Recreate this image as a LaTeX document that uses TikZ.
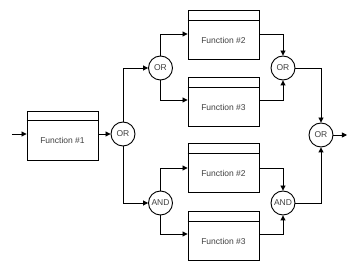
\documentclass[tikz,border=0pt]{standalone}
\usepackage{fontspec}
\setmainfont{Liberation Sans}
\usetikzlibrary{arrows.meta}
\tikzset{
  fbox/.style={draw, line width=0.9pt, minimum width=71pt, minimum height=49pt, inner sep=0pt},
  ftext/.style={font=\fontsize{8.5}{10}\selectfont, text=black!75, inner sep=0pt},
  gate/.style={draw, circle, line width=0.9pt, minimum size=24pt, inner sep=0pt, font=\fontsize{8.5}{10}\selectfont, text=black!75},
  conn/.style={line width=0.9pt},
  arr/.style={conn, -{Triangle[length=5pt,width=5pt]}}
}
\begin{document}
\begin{tikzpicture}[x=1pt,y=-1pt]
\useasboundingbox (0,0) rectangle (360,270);
% function boxes
\node[fbox] (f1) at (62.5,135.5) {};
\node[fbox] (f2a) at (223.5,35) {};
\node[fbox] (f3a) at (223.5,102) {};
\node[fbox] (f2b) at (223.5,168) {};
\node[fbox] (f3b) at (223.5,236) {};
\foreach \b in {f1,f2a,f3a,f2b,f3b}{
  \draw[conn] ([yshift=-10pt]\b.north west) -- ([yshift=-10pt]\b.north east);
}
\node[ftext] (t1) at ([yshift=-5pt]f1.center) {Function \#1};
\node[ftext] (t2a) at ([yshift=-5pt]f2a.center) {Function \#2};
\node[ftext] (t3a) at ([yshift=-5pt]f3a.center) {Function \#3};
\node[ftext] (t2b) at ([yshift=-5pt]f2b.center) {Function \#2};
\node[ftext] (t3b) at ([yshift=-5pt]f3b.center) {Function \#3};
% gates
\node[gate] (c1) at (123,134) {OR};
\node[gate] (c2) at (160.5,68) {OR};
\node[gate] (c3) at (160.5,203) {AND};
\node[gate] (c4) at (283,68) {OR};
\node[gate] (c5) at (283,203) {AND};
\node[gate] (c6) at (321,135) {OR};
\coordinate (in) at (12,134);
\coordinate (out) at (347,135);
% connectors
\draw[arr] (in) -- (f1.west |- in);
\draw[arr] (f1.east |- c1) -- (c1.west);
\draw[arr] (c1.north) |- (c2.west);
\draw[arr] (c1.south) |- (c3.west);
\draw[arr] (c2.north) |- ([yshift=1pt]f2a.west);
\draw[arr] (c2.south) |- ([yshift=2pt]f3a.west);
\draw[arr] (c3.north) |- (f2b.west);
\draw[arr] (c3.south) |- ([yshift=2pt]f3b.west);
\draw[arr] ([yshift=1pt]f2a.east) -| (c4.north);
\draw[arr] ([yshift=2pt]f3a.east) -| (c4.south);
\draw[arr] (f2b.east) -| (c5.north);
\draw[arr] ([yshift=2pt]f3b.east) -| (c5.south);
\draw[arr] (c4.east) -| (c6.north);
\draw[arr] (c5.east) -| (c6.south);
\draw[arr] (c6.east) -- (out);
\end{tikzpicture}
\end{document}
